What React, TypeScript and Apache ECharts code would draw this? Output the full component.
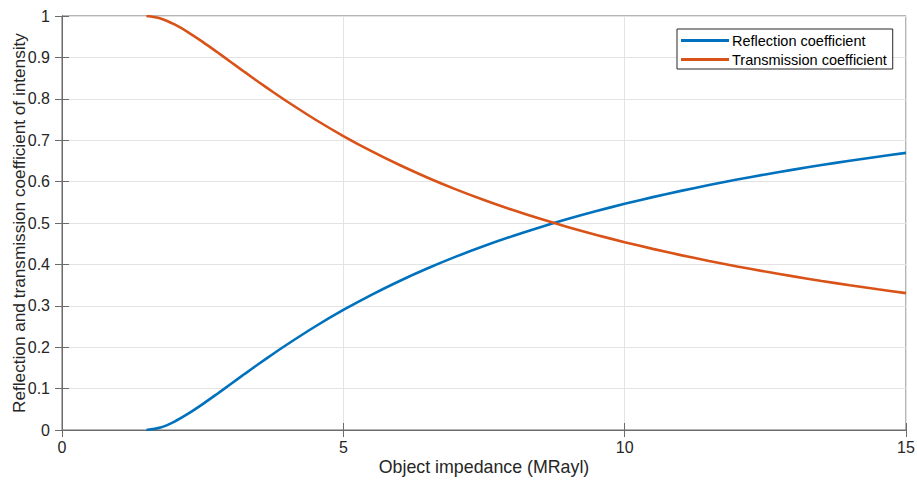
import React, { useEffect, useRef } from "react";
import * as echarts from "echarts";

const impedance = [1.5, 1.75, 2, 2.25, 2.5, 2.75, 3, 3.25, 3.5, 3.75, 4, 4.5, 5, 5.5, 6, 6.5, 7, 7.5, 8, 8.5, 9, 9.5, 10, 10.5, 11, 11.5, 12, 12.5, 13, 13.5, 14, 14.5, 15];
const reflection = [0, 0.0059, 0.0204, 0.04, 0.0625, 0.0865, 0.1111, 0.1357, 0.16, 0.1837, 0.2066, 0.25, 0.2899, 0.3265, 0.36, 0.3906, 0.4187, 0.4444, 0.4681, 0.49, 0.5102, 0.5289, 0.5463, 0.5625, 0.5776, 0.5917, 0.6049, 0.6173, 0.629, 0.64, 0.6504, 0.6602, 0.6694];
const transmission = [1, 0.9941, 0.9796, 0.96, 0.9375, 0.9135, 0.8889, 0.8643, 0.84, 0.8163, 0.7934, 0.75, 0.7101, 0.6735, 0.64, 0.6094, 0.5813, 0.5556, 0.5319, 0.51, 0.4898, 0.4711, 0.4537, 0.4375, 0.4224, 0.4083, 0.3951, 0.3827, 0.371, 0.36, 0.3496, 0.3398, 0.3306];
const seriesNames = ["Reflection coefficient", "Transmission coefficient"];
const xLabel = "Object impedance (MRayl)";
const yLabel = "Reflection and transmission coefficient of intensity";

const FONT = "Liberation Sans, Arial, Helvetica, sans-serif";
const AXIS = "#6b6b6b";
const TEXT = "#262626";

export default function App() {
  const ref = useRef<HTMLDivElement>(null);
  useEffect(() => {
    const chart = echarts.init(ref.current!, null, { renderer: "svg" });
    const tickStyle = { show: true, inside: true, length: 7, lineStyle: { color: AXIS, width: 1 } };
    chart.setOption({
      animation: false,
      backgroundColor: "#ffffff",
      textStyle: { fontFamily: FONT },
      grid: { left: 62, right: 11, top: 16, bottom: 51, containLabel: false, outerBoundsMode: "none", show: true, borderColor: AXIS, borderWidth: 1, backgroundColor: "transparent" },
      legend: {
        orient: "vertical",
        left: 677,
        top: 29,
        padding: [4, 6, 2, 4],
        itemGap: 4,
        itemWidth: 48,
        itemHeight: 15,
        borderColor: TEXT,
        borderWidth: 1,
        backgroundColor: "#ffffff",
        textStyle: { fontFamily: FONT, fontSize: 14.5, color: "#000", padding: [0, 0, 0, -2] },
        data: seriesNames.map((n) => ({ name: n, icon: "path://M0,0 L48,0 L48,3 L0,3 Z" })),
      },
      xAxis: [
        {
          type: "value", min: 0, max: 15, interval: 5,
          name: xLabel, nameLocation: "middle", nameGap: 28, nameMoveOverlap: false,
          nameTextStyle: { fontFamily: FONT, fontSize: 17.8, color: TEXT },
          axisLine: { show: true, onZero: false, lineStyle: { color: AXIS } },
          axisTick: tickStyle,
          axisLabel: { fontFamily: FONT, fontSize: 16, color: TEXT, margin: 9 },
          splitLine: { show: true, lineStyle: { color: "#e3e3e3", width: 1 } },
        },
        {
          type: "value", min: 0, max: 15, interval: 5, position: "top",
          axisLine: { show: true, lineStyle: { color: AXIS } },
          axisTick: tickStyle, axisLabel: { show: false }, splitLine: { show: false },
        },
      ],
      yAxis: [
        {
          type: "value", min: 0, max: 1, interval: 0.1,
          name: yLabel, nameLocation: "middle", nameGap: 35, nameMoveOverlap: false,
          nameTextStyle: { fontFamily: FONT, fontSize: 17.2, color: TEXT },
          axisLine: { show: true, onZero: false, lineStyle: { color: AXIS } },
          axisTick: tickStyle,
          axisLabel: { fontFamily: FONT, fontSize: 16, color: TEXT, margin: 12, formatter: (v: number) => String(Math.round(v * 10) / 10) },
          splitLine: { show: true, lineStyle: { color: "#e3e3e3", width: 1 } },
        },
        {
          type: "value", min: 0, max: 1, interval: 0.1, position: "right",
          axisLine: { show: true, lineStyle: { color: AXIS } },
          axisTick: tickStyle, axisLabel: { show: false }, splitLine: { show: false },
        },
      ],
      series: [
        {
          name: seriesNames[0], type: "line", showSymbol: false, smooth: 0.3,
          data: impedance.map((x, i) => [x, reflection[i]]),
          lineStyle: { color: "#0072BD", width: 2.6 }, itemStyle: { color: "#0072BD" },
        },
        {
          name: seriesNames[1], type: "line", showSymbol: false, smooth: 0.3,
          data: impedance.map((x, i) => [x, transmission[i]]),
          lineStyle: { color: "#D95319", width: 2.6 }, itemStyle: { color: "#D95319" },
        },
      ],
    });
    return () => chart.dispose();
  }, []);
  return <div ref={ref} style={{ position: "fixed", left: 0, top: 0, width: 917, height: 481 }} />;
}
